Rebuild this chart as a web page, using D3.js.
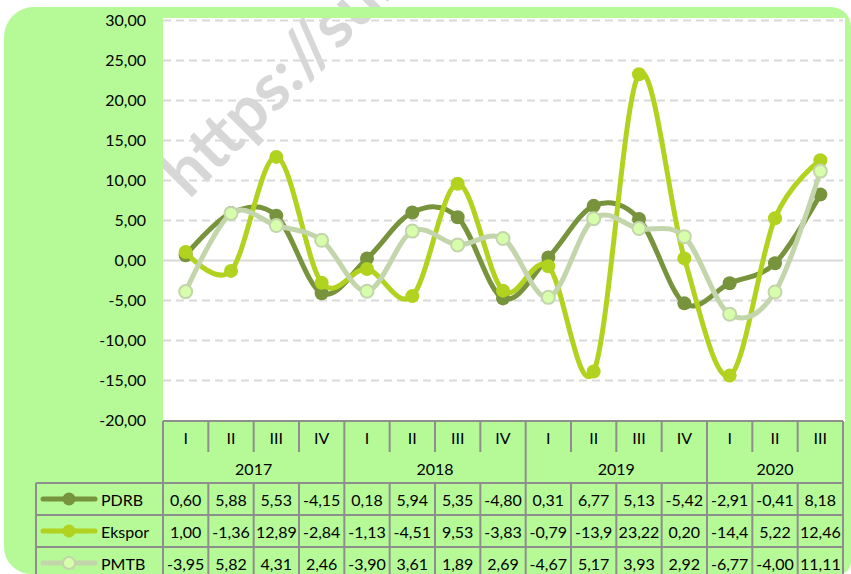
<!DOCTYPE html>
<html><head><meta charset="utf-8">
<script src="https://cdn.jsdelivr.net/npm/d3@7"></script>
<style>
html,body{margin:0;padding:0;background:#fff;}
svg{display:block;}
text{font-family:Lato,"Noto Sans",sans-serif;}
</style></head>
<body>
<svg id="c" width="851" height="574"></svg>
<script>
// ---- data ----
const quarters = ["I","II","III","IV","I","II","III","IV","I","II","III","IV","I","II","III"];
const years = ["2017","2018","2019","2020"];
const yearSpans = [4,4,4,3];
const pdrb  = [0.60,5.88,5.53,-4.15,0.18,5.94,5.35,-4.80,0.31,6.77,5.13,-5.42,-2.91,-0.41,8.18];
const ekspor= [1.00,-1.36,12.89,-2.84,-1.13,-4.51,9.53,-3.83,-0.79,-13.94,23.22,0.20,-14.45,5.22,12.46];
const pmtb  = [-3.95,5.82,4.31,2.46,-3.90,3.61,1.89,2.69,-4.67,5.17,3.93,2.92,-6.77,-4.00,11.11];
const seriesNames = ["PDRB","Ekspor","PMTB"];
const yTicks = [-20,-15,-10,-5,0,5,10,15,20,25,30];

const loc = d3.formatLocale({decimal:",",thousands:".",grouping:[3],currency:["",""],minus:"-"});
const f2 = loc.format(".2f");

const svg = d3.select("#c");
const W=851,H=574;
const L=163,R=843,T=20,B=420;
const green="#b5fa96", gridC="#d9d9d9", borderC="#8e8e8e";
const colors = {PDRB:{line:"#77933c",fill:"#77933c",stroke:"#77933c"},
                Ekspor:{line:"#b1d21e",fill:"#b1d21e",stroke:"#b1d21e"},
                PMTB:{line:"#c3d5ab",fill:"#d7ffab",stroke:"#c3d5ab"}};

const x = d3.scaleBand().domain(d3.range(quarters.length)).range([L,R]);
const y = d3.scaleLinear().domain([-20,30]).range([B,T]);
const cx = i => x(i)+x.bandwidth()/2;

// watermark (behind the green frame, visible through the plot area)
svg.append("text").attr("transform","translate(189,200) rotate(-45)")
  .attr("font-family","'Liberation Sans',Arial,sans-serif").attr("font-weight","bold")
  .attr("font-size",66).attr("fill","#9a9a9a").attr("fill-opacity",0.4)
  .text("https://sumbar.bps.go.id");

// background rounded shape with a hole for the plot area
function roundedPath(p,x,y,w,h,tl,tr,br,bl){
  p.moveTo(x+tl,y);
  p.lineTo(x+w-tr,y); p.arcTo(x+w,y,x+w,y+tr,tr);
  p.lineTo(x+w,y+h-br); p.arcTo(x+w,y+h,x+w-br,y+h,br);
  p.lineTo(x+bl,y+h); p.arcTo(x,y+h,x,y+h-bl,bl);
  p.lineTo(x,y+tl); p.arcTo(x,y,x+tl,y,tl);
  p.closePath();
}
const bg=d3.path();
roundedPath(bg,4,7,847,567,30,20,12,27);
bg.rect(L,18,R-L+2,B-18+2);
svg.append("path").attr("d",bg.toString()).attr("fill",green).attr("fill-rule","evenodd");

// gridlines
const grid = svg.append("g").attr("transform",`translate(${L},0)`)
  .call(d3.axisLeft(y).tickValues(yTicks.filter(v=>v>-20)).tickSize(-(R-L)).tickFormat(""));
grid.select(".domain").remove();
grid.selectAll(".tick line").attr("stroke",gridC).attr("stroke-width",2)
  .attr("stroke-dasharray",d=>d===0?null:"8,5");

// y labels
const ya = svg.append("g").attr("transform",`translate(${L},0)`)
  .call(d3.axisLeft(y).tickValues(yTicks).tickSize(0).tickPadding(17).tickFormat(f2));
ya.select(".domain").remove();
ya.selectAll("text").attr("font-size",16).attr("fill","#000").attr("font-family","Lato,'Noto Sans',sans-serif");

// lines
const data = {PDRB:pdrb, Ekspor:ekspor, PMTB:pmtb};
const line = d3.line().x((d,i)=>cx(i)).y(d=>y(d)).curve(d3.curveCardinal.tension(0));
seriesNames.forEach(name=>{
  const c=colors[name];
  const g=svg.append("g");
  g.append("path").datum(data[name]).attr("d",line).attr("fill","none")
    .attr("stroke",c.line).attr("stroke-width",5).attr("stroke-linecap","round").attr("stroke-linejoin","round");
  g.selectAll("circle").data(data[name]).join("circle")
    .attr("cx",(d,i)=>cx(i)).attr("cy",d=>y(d)).attr("r",name==="PMTB"?6.5:7)
    .attr("fill",c.fill).attr("stroke",c.stroke).attr("stroke-width",name==="PMTB"?2:0);
});

// table
const tb = svg.append("g");
const rowsTop=[483,515,547,579];
const LL=36;
const bw=x.bandwidth();
const ln=(x1,y1,x2,y2)=>tb.append("line").attr("x1",x1).attr("y1",y1).attr("x2",x2).attr("y2",y2)
  .attr("stroke",borderC).attr("stroke-width",2);
ln(L,421,R,421);
for(let i=0;i<=quarters.length;i++){ ln(L+i*bw,421,L+i*bw,452); }
let acc=0;
const yb=[0]; yearSpans.forEach(s=>{acc+=s; yb.push(acc);});
yb.forEach(k=>ln(L+k*bw,452,L+k*bw,483));
ln(L,483,R,483);
rowsTop.slice(1).forEach(t=>ln(LL,t,R,t));
ln(LL,483,L,483);
ln(LL,483,LL,579);
for(let i=0;i<=quarters.length;i++){ ln(L+i*bw,483,L+i*bw,579); }

tb.selectAll("text.q").data(quarters).join("text").attr("class","q")
  .attr("x",(d,i)=>cx(i)).attr("y",437).attr("text-anchor","middle").attr("dominant-baseline","central")
  .attr("font-size",16).attr("fill","#000").text(d=>d);
tb.selectAll("text.yr").data(years).join("text").attr("class","yr")
  .attr("x",(d,i)=>L+(yb[i]+yb[i+1])/2*bw).attr("y",468).attr("text-anchor","middle").attr("dominant-baseline","central")
  .attr("font-size",16).attr("fill","#000").text(d=>d);

seriesNames.forEach((name,r)=>{
  const c=colors[name];
  const cyR=(rowsTop[r]+rowsTop[r+1])/2;
  tb.append("line").attr("x1",43).attr("x2",95).attr("y1",cyR).attr("y2",cyR)
    .attr("stroke",c.line).attr("stroke-width",5).attr("stroke-linecap","round");
  tb.append("circle").attr("cx",69).attr("cy",cyR).attr("r",name==="PMTB"?6:6.5)
    .attr("fill",c.fill).attr("stroke",c.stroke).attr("stroke-width",name==="PMTB"?2:0);
  tb.append("text").attr("x",101).attr("y",cyR).attr("dominant-baseline","central")
    .attr("font-size",16).attr("fill","#000").text(name);
  tb.selectAll("text.v"+r).data(data[name]).join("text").attr("class","v"+r)
    .attr("x",(d,i)=>cx(i)).attr("y",cyR).attr("text-anchor","middle").attr("dominant-baseline","central")
    .attr("font-size",16).attr("fill","#000").text(d=>f2(d))
    .each(function(){
      const el=this; let s=el.textContent;
      while(el.getComputedTextLength()>bw-2 && s.length>1){ s=s.slice(0,-1); el.textContent=s; }
    });
});
</script>
</body></html>
